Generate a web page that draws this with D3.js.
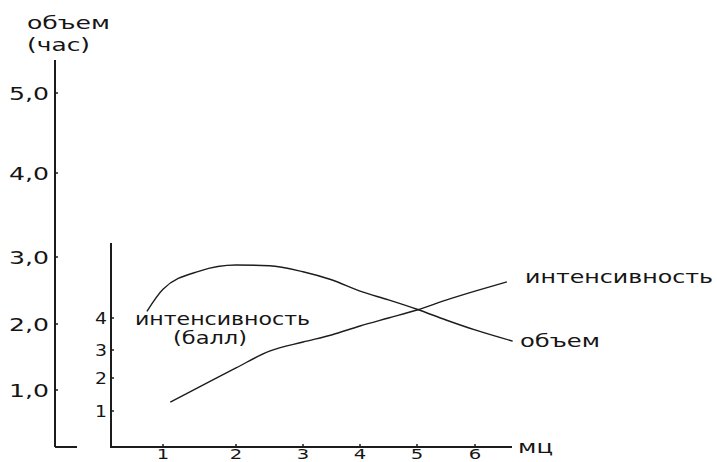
<!DOCTYPE html>
<html>
<head>
<meta charset="utf-8">
<script src="https://cdn.jsdelivr.net/npm/d3@7"></script>
<style>
  body { margin: 0; background: #fff; }
  svg { display: block; }
  text { font-family: "DejaVu Sans", sans-serif; fill: #151515; }
</style>
</head>
<body>
<div id="chart"></div>
<script>
// x axis: months of training
const months = [1, 2, 3, 4, 5, 6];
const monthLabels = ['1', '2', '3', '4', '5', '6'];

// left axis: volume (hours)
const volTicks = [1, 2, 3, 4, 5];
const volLabels = ['1,0', '2,0', '3,0', '4,0', '5,0'];

// inner axis: intensity (points)
const intTicks = [1, 2, 3, 4];
const intLabels = ['1', '2', '3', '4'];

// volume curve (month, hours)
const volX = [0.78, 1.0, 1.5, 2.0, 2.5, 3.0, 3.5, 4.0, 4.5, 5.0, 5.5, 6.0, 6.65];
const volY = [2.19, 2.52, 2.79, 2.88, 2.87, 2.78, 2.66, 2.49, 2.36, 2.22, 2.06, 1.91, 1.74];

// intensity curve (month, points)
const intX = [1.1, 1.5, 2.0, 2.5, 3.0, 3.5, 4.0, 4.5, 5.0, 5.5, 6.0, 6.55];
const intY = [1.27, 1.73, 2.36, 2.96, 3.25, 3.47, 3.75, 4.0, 4.25, 4.56, 4.84, 5.13];

const width = 717;
const height = 462;

const svg = d3.select('#chart')
  .append('svg')
  .attr('width', width)
  .attr('height', height);

// hand drawn chart, so the scales are piecewise
const x = d3.scaleLinear().domain(months).range([163, 236, 303, 360, 417, 475]);
const yVol = d3.scaleLinear().domain(volTicks).range([390, 324, 257, 173, 93]);
const yInt = d3.scaleLinear().domain(intTicks).range([411, 378, 350, 318]);

const outerX = 55, innerX = 111, baseY = 447;

// squeeze/stretch text to a given width
function fit(sel, w) {
  sel.attr('textLength', w).attr('lengthAdjust', 'spacingAndGlyphs');
}
function stretch(sel, k) {
  sel.each(function () {
    const w = this.getComputedTextLength();
    d3.select(this).attr('textLength', w * k).attr('lengthAdjust', 'spacingAndGlyphs');
  });
}

const axisStyle = (sel) => sel.attr('stroke', '#1c1c1c').attr('stroke-width', 2);

// outer (volume) axis
svg.append('line').attr('x1', outerX).attr('x2', outerX).attr('y1', 60).attr('y2', baseY).call(axisStyle);
svg.append('line').attr('x1', outerX).attr('x2', 77).attr('y1', baseY).attr('y2', baseY).call(axisStyle);

svg.selectAll('.vol-tick')
  .data(volTicks)
  .enter().append('line')
  .attr('class', 'vol-tick')
  .attr('x1', outerX).attr('x2', outerX + 3)
  .attr('y1', (d) => yVol(d)).attr('y2', (d) => yVol(d))
  .attr('stroke', '#1c1c1c').attr('stroke-width', 1.5);

svg.selectAll('.vol-label')
  .data(volTicks)
  .enter().append('text')
  .attr('class', 'vol-label')
  .attr('x', 49)
  .attr('y', (d) => yVol(d) + 6.5)
  .attr('text-anchor', 'end')
  .style('font-size', '18px')
  .text((d, i) => volLabels[i])
  .call(fit, 40);

// inner (intensity) axis and month axis
svg.append('line').attr('x1', innerX).attr('x2', innerX).attr('y1', 243).attr('y2', baseY + 1).call(axisStyle);
svg.append('line').attr('x1', innerX).attr('x2', 512).attr('y1', baseY).attr('y2', baseY).call(axisStyle);

svg.selectAll('.int-tick')
  .data(intTicks)
  .enter().append('line')
  .attr('class', 'int-tick')
  .attr('x1', innerX).attr('x2', innerX + 3)
  .attr('y1', (d) => yInt(d)).attr('y2', (d) => yInt(d))
  .attr('stroke', '#1c1c1c').attr('stroke-width', 1.5);

svg.selectAll('.int-label')
  .data(intTicks)
  .enter().append('text')
  .attr('class', 'int-label')
  .attr('x', 107)
  .attr('y', (d) => yInt(d) + 5.5)
  .attr('text-anchor', 'end')
  .style('font-size', '16px')
  .text((d, i) => intLabels[i])
  .call(fit, 12);

svg.selectAll('.x-tick')
  .data(months)
  .enter().append('line')
  .attr('class', 'x-tick')
  .attr('x1', (d) => x(d)).attr('x2', (d) => x(d))
  .attr('y1', baseY - 3).attr('y2', baseY)
  .attr('stroke', '#1c1c1c').attr('stroke-width', 1.5);

svg.selectAll('.x-label')
  .data(months)
  .enter().append('text')
  .attr('class', 'x-label')
  .attr('x', (d) => x(d))
  .attr('y', 458.5)
  .attr('text-anchor', 'middle')
  .style('font-size', '14px')
  .text((d, i) => monthLabels[i])
  .call(stretch, 1.4);

// curves
const volLine = d3.line()
  .x((d) => x(d[0]))
  .y((d) => yVol(d[1]))
  .curve(d3.curveMonotoneX);

const intLine = d3.line()
  .x((d) => x(d[0]))
  .y((d) => yInt(d[1]))
  .curve(d3.curveMonotoneX);

svg.append('path')
  .datum(d3.zip(volX, volY))
  .attr('d', volLine)
  .attr('fill', 'none')
  .attr('stroke', '#1c1c1c')
  .attr('stroke-width', 1.4);

svg.append('path')
  .datum(d3.zip(intX, intY))
  .attr('d', intLine)
  .attr('fill', 'none')
  .attr('stroke', '#1c1c1c')
  .attr('stroke-width', 1.4);

// labels
const labels = [
  { t: 'объем', x: 27, y: 29, w: 83 },
  { t: '(час)', x: 27, y: 51, w: 63 },
  { t: 'интенсивность', x: 525, y: 283, w: 188 },
  { t: 'объем', x: 520, y: 347, w: 80 },
  { t: 'интенсивность', x: 135, y: 325, w: 175 },
  { t: '(балл)', x: 173, y: 344, w: 74 },
  { t: 'мц', x: 518, y: 453, w: 35 }
];

labels.forEach((l) => {
  svg.append('text')
    .attr('x', l.x)
    .attr('y', l.y)
    .style('font-size', '18px')
    .text(l.t)
    .call(fit, l.w);
});
</script>
</body>
</html>
